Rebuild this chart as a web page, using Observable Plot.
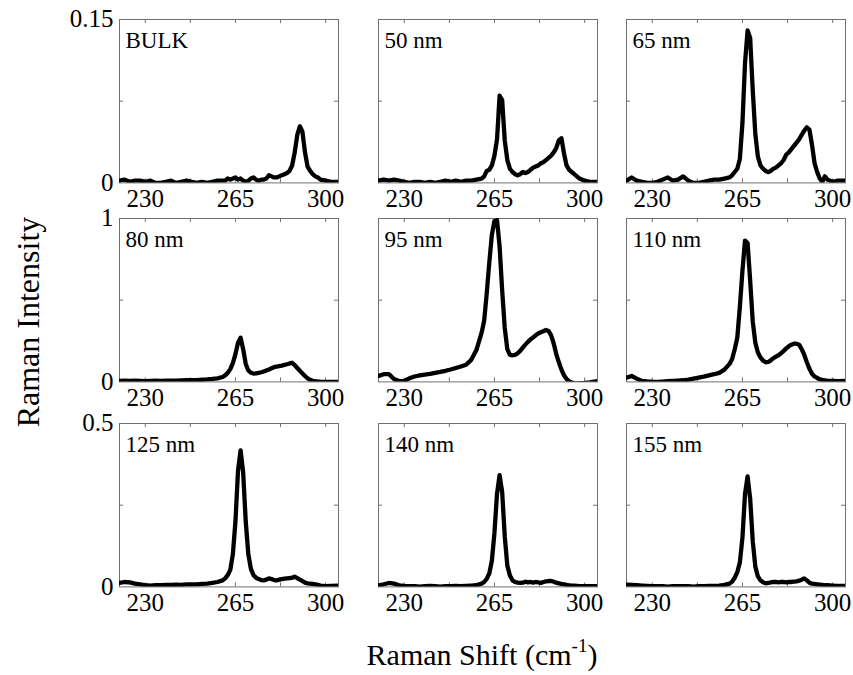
<!DOCTYPE html>
<html><head><meta charset="utf-8">
<script src="https://cdn.jsdelivr.net/npm/d3@7"></script>
<script src="https://cdn.jsdelivr.net/npm/@observablehq/plot@0.6"></script>
<style>
body{margin:0;background:#fff;}
#chart{position:relative;width:853px;height:675px;font-family:"Liberation Serif","Times New Roman",serif;color:#000;overflow:hidden;}
#chart svg{position:absolute;overflow:visible;background:transparent;font-family:"Liberation Serif","Times New Roman",serif;}
#chart svg text{font-family:"Liberation Serif","Times New Roman",serif !important;}
.ytitle{position:absolute;left:28px;top:322px;transform:translate(-50%,-50%) rotate(-90deg);font-size:32px;line-height:32px;white-space:nowrap;}
.xtitle{position:absolute;left:482px;top:640px;transform:translateX(-50%);font-size:30px;line-height:30px;white-space:nowrap;}
.xtitle sup{font-size:19px;vertical-align:13px;line-height:0;}
</style></head><body>
<div id="chart">
  <div class="ytitle">Raman Intensity</div>
  <div class="xtitle">Raman Shift (cm<sup>-1</sup>)</div>
</div>
<script>
// ---- data ----
const shift = [220,222,224,226,228,230,232,234,236,238,240,242,244,246,248,250,252,254,256,258,260,
  261,262,263,264,265,266,267,268,269,270,271,272,273,274,275,276,277,278,279,280,
  281,282,283,284,285,286,287,288,289,290,291,292,293,294,295,296,297,298,300,302,305];

const bulk = [0.002,0.003,0.001,0.002,0.002,0.001,0.002,0.000,0.000,0.001,0.002,0.000,0.001,0.002,0.001,0.000,0.001,0.000,0.001,0.002,0.002,
  0.002,0.004,0.003,0.004,0.005,0.003,0.004,0.002,0.001,0.002,0.004,0.005,0.003,0.002,0.003,0.003,0.004,0.007,0.006,0.005,
  0.005,0.006,0.007,0.008,0.009,0.011,0.016,0.028,0.044,0.052,0.047,0.028,0.015,0.011,0.008,0.006,0.005,0.003,0.002,0.001,0.001];

const nm50 = [0.002,0.003,0.002,0.003,0.002,0.001,0.000,0.001,0.001,0.000,0.001,0.000,0.001,0.002,0.001,0.002,0.001,0.002,0.002,0.003,0.004,
  0.006,0.011,0.012,0.016,0.025,0.040,0.080,0.076,0.039,0.021,0.013,0.010,0.008,0.007,0.008,0.010,0.009,0.010,0.012,0.014,
  0.015,0.016,0.018,0.019,0.021,0.023,0.025,0.028,0.032,0.039,0.041,0.027,0.016,0.012,0.010,0.008,0.006,0.004,0.002,0.001,0.001];

const nm65 = [0.002,0.005,0.002,0.001,0.000,0.000,0.001,0.003,0.005,0.002,0.003,0.006,0.002,0.000,0.000,0.001,0.002,0.003,0.003,0.004,0.005,
  0.007,0.010,0.013,0.022,0.055,0.110,0.140,0.133,0.085,0.045,0.024,0.016,0.013,0.011,0.010,0.011,0.013,0.014,0.016,0.018,
  0.021,0.026,0.028,0.031,0.034,0.037,0.040,0.044,0.048,0.051,0.049,0.035,0.018,0.010,0.004,0.001,0.006,0.003,0.001,0.002,0.002];

const nm80 = [0.006,0.008,0.006,0.007,0.006,0.005,0.006,0.007,0.006,0.007,0.008,0.008,0.009,0.010,0.010,0.011,0.013,0.015,0.018,0.022,0.030,
  0.040,0.055,0.078,0.115,0.170,0.240,0.270,0.200,0.110,0.070,0.056,0.051,0.052,0.055,0.059,0.064,0.070,0.076,0.083,0.090,
  0.094,0.097,0.100,0.104,0.108,0.113,0.117,0.103,0.085,0.068,0.052,0.036,0.022,0.013,0.007,0.004,0.002,0.001,0.000,0.000,0.000];

const nm95 = [0.037,0.047,0.048,0.018,0.005,0.006,0.022,0.033,0.040,0.045,0.049,0.055,0.061,0.068,0.076,0.085,0.094,0.105,0.135,0.195,0.300,
  0.373,0.540,0.730,0.900,0.985,0.990,0.830,0.560,0.330,0.200,0.165,0.163,0.166,0.175,0.190,0.210,0.228,0.245,0.260,0.272,
  0.285,0.296,0.304,0.310,0.318,0.312,0.285,0.235,0.170,0.120,0.075,0.040,0.018,0.003,-0.004,-0.008,-0.010,-0.008,-0.006,-0.003,0.005];

const nm110 = [0.026,0.036,0.020,0.006,0.003,0.001,0.000,0.002,0.004,0.006,0.008,0.010,0.014,0.020,0.026,0.032,0.040,0.047,0.055,0.075,0.110,
  0.140,0.200,0.270,0.460,0.680,0.865,0.850,0.620,0.370,0.240,0.180,0.150,0.130,0.120,0.122,0.132,0.145,0.155,0.163,0.175,
  0.190,0.205,0.218,0.228,0.234,0.234,0.228,0.200,0.165,0.120,0.080,0.050,0.033,0.024,0.016,0.012,0.009,0.007,0.006,0.005,0.006];

const nm125 = [0.012,0.015,0.014,0.010,0.008,0.005,0.004,0.005,0.005,0.006,0.006,0.007,0.006,0.008,0.008,0.008,0.009,0.010,0.012,0.015,0.020,
  0.026,0.036,0.052,0.100,0.200,0.355,0.418,0.350,0.200,0.100,0.055,0.036,0.028,0.024,0.021,0.020,0.022,0.026,0.024,0.021,
  0.020,0.022,0.024,0.025,0.026,0.027,0.028,0.031,0.027,0.022,0.018,0.013,0.011,0.010,0.009,0.008,0.006,0.004,0.002,0.003,0.004];

const nm140 = [0.005,0.008,0.012,0.010,0.005,0.003,0.002,0.002,0.001,0.002,0.003,0.002,0.001,0.002,0.002,0.003,0.002,0.003,0.004,0.005,0.010,
  0.015,0.025,0.041,0.080,0.165,0.285,0.342,0.290,0.155,0.065,0.035,0.020,0.015,0.013,0.012,0.013,0.016,0.014,0.015,0.013,
  0.015,0.014,0.012,0.015,0.017,0.018,0.018,0.016,0.013,0.011,0.009,0.008,0.006,0.005,0.004,0.004,0.003,0.002,0.002,0.002,0.002];

const nm155 = [0.007,0.006,0.005,0.004,0.003,0.002,0.002,0.002,0.001,0.002,0.002,0.002,0.002,0.001,0.002,0.002,0.003,0.003,0.004,0.006,0.010,
  0.016,0.028,0.045,0.075,0.150,0.285,0.338,0.270,0.140,0.062,0.032,0.020,0.014,0.011,0.012,0.014,0.015,0.015,0.014,0.015,
  0.015,0.014,0.015,0.015,0.016,0.017,0.019,0.022,0.026,0.020,0.013,0.010,0.009,0.008,0.007,0.006,0.005,0.005,0.004,0.003,0.003];

const samples = ["BULK", "50 nm", "65 nm", "80 nm", "95 nm", "110 nm", "125 nm", "140 nm", "155 nm"];
const series = [bulk, nm50, nm65, nm80, nm95, nm110, nm125, nm140, nm155];
const rowMax = [0.15, 1, 0.5];
const xLabelTicks = [230, 265, 300];
const xMinorTicks = [230, 247.5, 265, 282.5, 300];
const xDomain = [220, 305];

// ---- layout ----
const colLeft = [119.3, 377.7, 626];
const rowTop = [19.3, 217.5, 423.3];
const frameW = 219, frameH = 163.4;
const M = {l: 50, r: 12, t: 12, b: 40};
const frameColor = "#707070";
const tickLen = 4;
const serif = '"Liberation Serif", "Times New Roman", serif';

const chart = document.getElementById("chart");

series.forEach((vals, i) => {
  const row = Math.floor(i / 3), col = i % 3;
  const yMax = rowMax[row];
  const data = shift.map((x, j) => ({x, y: vals[j]}));
  const marks = [
    Plot.frame({stroke: frameColor, strokeWidth: 1}),
    Plot.ruleX(xMinorTicks, {stroke: frameColor, insetTop: frameH - tickLen}),
    Plot.ruleX(xMinorTicks, {stroke: frameColor, insetBottom: frameH - tickLen}),
    Plot.ruleY([yMax / 2], {stroke: frameColor, insetRight: frameW - tickLen}),
    Plot.ruleY([yMax / 2], {stroke: frameColor, insetLeft: frameW - tickLen}),
    Plot.axisX({ticks: xLabelTicks, tickSize: 0, tickPadding: 6, fontSize: 25, fontFamily: serif, fill: "#000", label: null, tickFormat: d => String(d)}),
    Plot.line(data, {x: "x", y: "y", stroke: "#000", strokeWidth: 4.3, strokeLinejoin: "round", strokeLinecap: "round", clip: true}),
    Plot.text([samples[i]], {frameAnchor: "top-left", dx: 6, dy: 21, lineAnchor: "middle", textAnchor: "start", fontSize: 23, fontFamily: serif, fill: "#000"})
  ];
  if (col === 0) {
    marks.push(Plot.axisY({ticks: [0, yMax], tickSize: 0, tickPadding: 6, fontSize: 25, fontFamily: serif, fill: "#000", label: null, tickFormat: d => String(d)}));
  }
  const svg = Plot.plot({
    width: M.l + frameW + M.r,
    height: M.t + frameH + M.b,
    marginLeft: M.l, marginRight: M.r, marginTop: M.t, marginBottom: M.b,
    style: `font-family: ${serif}; color: #000; background: transparent;`,
    x: {domain: xDomain},
    y: col === 0 ? {domain: [0, yMax]} : {domain: [0, yMax], axis: null},
    marks
  });
  svg.setAttribute("font-family", serif);
  svg.querySelectorAll("text, g").forEach(el => {
    el.style.fontFamily = serif;
    if (el.hasAttribute("font-family")) el.setAttribute("font-family", serif);
  });
  svg.style.left = (colLeft[col] - M.l) + "px";
  svg.style.top = (rowTop[row] - M.t) + "px";
  chart.appendChild(svg);
});
</script>
</body></html>
